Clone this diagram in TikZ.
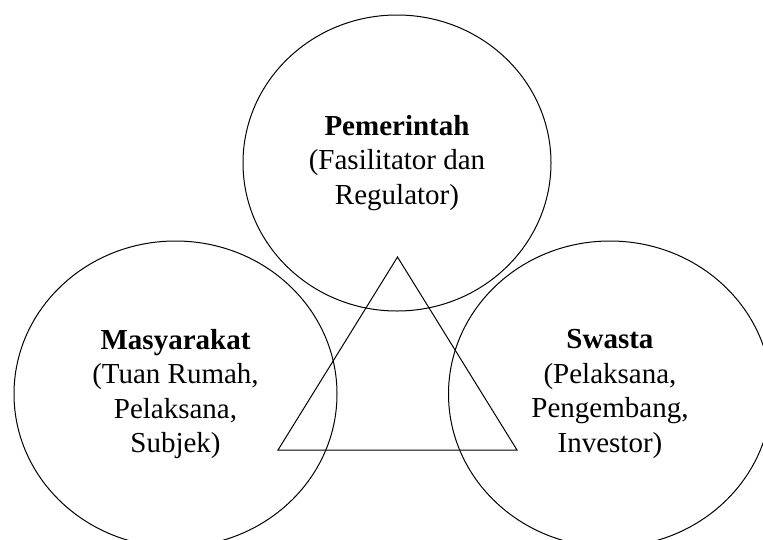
\documentclass[tikz,border=0pt]{standalone}
\usepackage{fontspec}
\setmainfont{Liberation Serif}
\usetikzlibrary{shapes.geometric}

\begin{document}
\begin{tikzpicture}[
  x=1pt, y=-1pt,
  role/.style={draw,ellipse,line width=1pt,inner sep=0pt,align=center,
    font=\fontsize{29}{34.5}\selectfont},
  toprole/.style={role,minimum width=308pt,minimum height=296pt},
  siderole/.style={role,minimum width=323pt,minimum height=306pt},
  link/.style={line width=1pt,line join=miter}
]
\useasboundingbox (0,0) rectangle (763,539);

\node[toprole] (G) at (397,163) {\textbf{Pemerintah}\\(Fasilitator dan\\Regulator)};
\node[siderole] (M) at (175.5,394) {\textbf{Masyarakat}\\(Tuan Rumah,\\Pelaksana,\\Subjek)};
\node[siderole] (S) at (610,394) {\textbf{Swasta}\\(Pelaksana,\\Pengembang,\\Investor)};

\coordinate (apex) at (397.5,257);
\coordinate (baseL) at (278,450);
\coordinate (baseR) at (517,450);
\draw[link] (apex) -- (baseL) -- (baseR) -- cycle;
\end{tikzpicture}
\end{document}
